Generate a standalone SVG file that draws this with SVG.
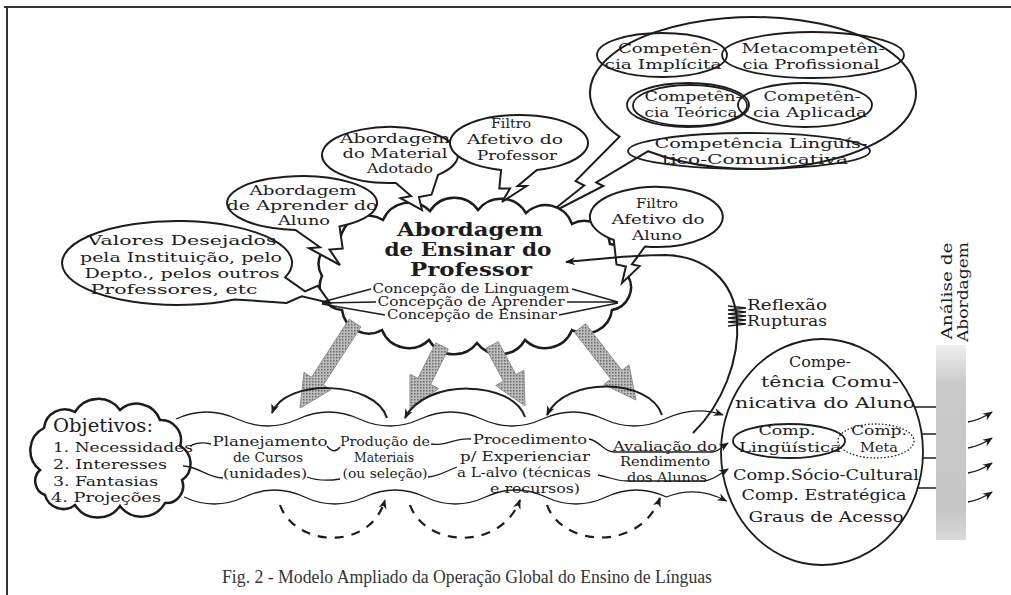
<svg xmlns="http://www.w3.org/2000/svg" width="1011" height="595" viewBox="0 0 1011 595">
<defs>
<style>
.t{font-family:"DejaVu Serif","Liberation Serif",serif;font-size:13.5px;fill:#1c1c1c;text-anchor:middle}
.m{font-size:14.5px}
.sm{font-size:12px}
.b{font-weight:bold;font-size:19px}
.l{text-anchor:start}
.cap{font-family:"Liberation Serif","Times New Roman",serif;font-size:18px;fill:#333;text-anchor:middle}
.sh{fill:#fff;stroke:#1c1c1c;stroke-width:2}
.el{fill:none;stroke:#1c1c1c;stroke-width:1.8}
.ln{fill:none;stroke:#1c1c1c;stroke-width:1.3}
.ar{fill:none;stroke:#1c1c1c;stroke-width:2}
.da{fill:none;stroke:#1c1c1c;stroke-width:2.2;stroke-dasharray:9 8}
.gr{fill:url(#dots);stroke:#8c8c8c;stroke-width:1}
</style>
<marker id="ah" viewBox="0 0 10 10" refX="9" refY="5" markerWidth="11" markerHeight="10" markerUnits="userSpaceOnUse" orient="auto"><path d="M0,1 L10,5 L0,9 L3,5 Z" fill="#1c1c1c"/></marker>
<pattern id="dots" width="3" height="3" patternUnits="userSpaceOnUse"><rect width="3" height="3" fill="#bdbdbd"/><rect width="1.5" height="1.5" fill="#6a6a6a"/></pattern>
<linearGradient id="bar" x1="0" y1="0" x2="0" y2="1"><stop offset="0" stop-color="#efefef"/><stop offset="0.2" stop-color="#c9c9c9"/><stop offset="0.85" stop-color="#c6c6c6"/><stop offset="1" stop-color="#dadada"/></linearGradient>
</defs>
<rect width="1011" height="595" fill="#fff"/>
<path d="M4,7 H1011 M7,7 V595" stroke="#333" stroke-width="2" fill="none"/>

<g id="competencias">
<path class="sh" d="M 648.2,151.2 A 163 76 0 1 0 619.5,136.6 L 575.6,181.1 L 584.2,185.5 L 547,215 L 603.3,186 L 596.2,182.4 Z"/>
<ellipse class="el" cx="662" cy="55" rx="65" ry="22"/>
<ellipse class="el" cx="813" cy="55" rx="91" ry="23"/>
<ellipse class="el" cx="688" cy="105" rx="61" ry="22"/>
<ellipse class="el" cx="690" cy="105.5" rx="57" ry="20.5"/>
<ellipse class="el" cx="805" cy="105" rx="67" ry="22"/>
<ellipse class="el" cx="749" cy="151" rx="121" ry="18"/>
<text class="t" x="668" y="53" textLength="100" lengthAdjust="spacingAndGlyphs">Competên-</text>
<text class="t" x="663" y="69" textLength="117" lengthAdjust="spacingAndGlyphs">cia Implícita</text>
<text class="t" x="813" y="53" textLength="143" lengthAdjust="spacingAndGlyphs">Metacompetên-</text>
<text class="t" x="811" y="69" textLength="137" lengthAdjust="spacingAndGlyphs">cia Profissional</text>
<text class="t" x="693" y="101" textLength="97" lengthAdjust="spacingAndGlyphs">Competên-</text>
<text class="t" x="691" y="117" textLength="93" lengthAdjust="spacingAndGlyphs">cia Teórica</text>
<text class="t" x="812" y="101" textLength="97" lengthAdjust="spacingAndGlyphs">Competên-</text>
<text class="t" x="810" y="117" textLength="114" lengthAdjust="spacingAndGlyphs">cia Aplicada</text>
<text class="t" x="761" y="148" textLength="213" lengthAdjust="spacingAndGlyphs">Competência Lingüís-</text>
<text class="t" x="755" y="164" textLength="186" lengthAdjust="spacingAndGlyphs">tico-Comunicativa</text>
</g>

<g id="abordagem-ensinar">
<path d="M 322,276 A 24 24 0 0 1 340,240 A 28 28 0 0 1 383,220 A 29 29 0 0 1 430,211 A 29 29 0 0 1 478,210 A 29 29 0 0 1 526,213 A 28 28 0 0 1 572,224 A 26 26 0 0 1 610,244 A 22 22 0 0 1 628,276 A 23 23 0 0 1 612,310 A 27 27 0 0 1 572,330 A 29 29 0 0 1 525,340 A 29 29 0 0 1 477,343 A 29 29 0 0 1 429,340 A 29 29 0 0 1 382,330 A 27 27 0 0 1 342,310 A 24 24 0 0 1 322,276 Z" fill="#fff" stroke="#1c1c1c" stroke-width="2.5"/>
</g>

<g id="valores">
<path class="sh" d="M 285.1,277.4 A 115 42 0 1 0 234.5,299.4 L 286.5,302.9 L 301.7,296.3 L 330,303 L 317.7,285.8 L 305,291.3 Z"/>
<text class="t" x="182" y="245" textLength="189" lengthAdjust="spacingAndGlyphs">Valores Desejados</text>
<text class="t" x="181" y="262" textLength="202" lengthAdjust="spacingAndGlyphs">pela Instituição, pelo</text>
<text class="t" x="182" y="278" textLength="195" lengthAdjust="spacingAndGlyphs">Depto., pelos outros</text>
<text class="t" x="174" y="294" textLength="167" lengthAdjust="spacingAndGlyphs">Professores, etc</text>
</g>

<g id="abordagem-aprender">
<path class="sh" d="M 295.5,229.9 A 75 27 0 1 1 339.5,226.4 L 342.7,248.6 L 329.5,249.6 L 340,265 L 309,248.2 L 320,247.3 Z"/>
<text class="t" x="303" y="195" textLength="107" lengthAdjust="spacingAndGlyphs">Abordagem</text>
<text class="t" x="302" y="210" textLength="151" lengthAdjust="spacingAndGlyphs">de Aprender do</text>
<text class="t" x="304" y="225" textLength="52" lengthAdjust="spacingAndGlyphs">Aluno</text>
</g>

<g id="abordagem-material">
<path class="sh" d="M 395.9,182.9 A 68 28 0 1 1 438.1,174.8 L 431.5,194.7 L 418.9,197.1 L 422,210 L 400.5,198.1 L 411.1,196.1 Z"/>
<text class="t" x="395" y="143" textLength="110" lengthAdjust="spacingAndGlyphs">Abordagem</text>
<text class="t" x="395" y="158" textLength="105" lengthAdjust="spacingAndGlyphs">do Material</text>
<text class="t" x="400" y="173" textLength="66" lengthAdjust="spacingAndGlyphs">Adotado</text>
</g>

<g id="filtro-professor">
<path class="sh" d="M 536.9,170 A 69 28 0 1 0 501.1,170 L 499.3,188.6 L 510,188.6 L 502,202 L 526.6,186 L 517.7,186 Z"/>
<text class="t" x="511" y="128" textLength="40" lengthAdjust="spacingAndGlyphs">Filtro</text>
<text class="t" x="515" y="144" textLength="96" lengthAdjust="spacingAndGlyphs">Afetivo do</text>
<text class="t" x="517" y="160" textLength="80" lengthAdjust="spacingAndGlyphs">Professor</text>
</g>

<g id="filtro-aluno">
<path class="sh" d="M 645,246.5 A 66.5 30 0 1 0 613.8,240 L 616.5,264.5 L 625.9,266.5 L 622,283 L 639.7,266.1 L 631.9,264.4 Z"/>
<text class="t" x="657" y="208" textLength="42" lengthAdjust="spacingAndGlyphs">Filtro</text>
<text class="t" x="658" y="224" textLength="93" lengthAdjust="spacingAndGlyphs">Afetivo do</text>
<text class="t" x="657" y="240" textLength="50" lengthAdjust="spacingAndGlyphs">Aluno</text>
</g>

<g id="abordagem-ensinar-texto">
<text class="t b" x="470" y="236" textLength="146" lengthAdjust="spacingAndGlyphs">Abordagem</text>
<text class="t b" x="468" y="256" textLength="167" lengthAdjust="spacingAndGlyphs">de Ensinar do</text>
<text class="t b" x="471" y="276" textLength="122" lengthAdjust="spacingAndGlyphs">Professor</text>
<text class="t sm" x="471" y="293" textLength="197" lengthAdjust="spacingAndGlyphs">Concepção de Linguagem</text>
<text class="t sm" x="471" y="306" textLength="187" lengthAdjust="spacingAndGlyphs">Concepção de Aprender</text>
<text class="t sm" x="472" y="319" textLength="170" lengthAdjust="spacingAndGlyphs">Concepção de Ensinar</text>
<path class="ln" d="M 371,289 L 322,302 M 376,302 L 322,303 M 385,315 L 322,304 M 572,289 L 618,302 M 567,302 L 618,302 M 559,315 L 618,303"/>
</g>

<g id="objetivos">
<path d="M 40,470 A 25 25 0 0 1 44,428 A 21 21 0 0 1 75,412 A 27 27 0 0 1 120,410 A 25 25 0 0 1 160,420 A 20 20 0 0 1 180,446 A 20 20 0 0 1 182,480 A 17 17 0 0 1 165,503 A 27 27 0 0 1 120,506 A 27 27 0 0 1 75,505 A 19 19 0 0 1 45,495 A 15 15 0 0 1 40,470 Z" fill="#fff" stroke="#1c1c1c" stroke-width="2.5"/>
<text class="t l" x="53" y="432" style="font-size:18px" textLength="100" lengthAdjust="spacingAndGlyphs">Objetivos:</text>
<text class="t l" x="53" y="452" textLength="140" lengthAdjust="spacingAndGlyphs">1. Necessidades</text>
<text class="t l" x="53" y="469" textLength="114" lengthAdjust="spacingAndGlyphs">2. Interesses</text>
<text class="t l" x="53" y="486" textLength="105" lengthAdjust="spacingAndGlyphs">3. Fantasias</text>
<text class="t l" x="51" y="502" textLength="110" lengthAdjust="spacingAndGlyphs">4. Projeções</text>
</g>

<g id="planejamento">
<text class="t" x="270" y="446" textLength="115" lengthAdjust="spacingAndGlyphs">Planejamento</text>
<text class="t" x="268" y="462" textLength="70" lengthAdjust="spacingAndGlyphs">de Cursos</text>
<text class="t" x="265" y="478" textLength="84" lengthAdjust="spacingAndGlyphs">(unidades)</text>
</g>
<g id="producao">
<text class="t" x="385" y="446" textLength="90" lengthAdjust="spacingAndGlyphs">Produção de</text>
<text class="t" x="384" y="462" textLength="60" lengthAdjust="spacingAndGlyphs">Materiais</text>
<text class="t" x="385" y="478" textLength="85" lengthAdjust="spacingAndGlyphs">(ou seleção)</text>
</g>
<g id="procedimento">
<text class="t" x="530" y="444" textLength="114" lengthAdjust="spacingAndGlyphs">Procedimento</text>
<text class="t" x="525" y="461" textLength="130" lengthAdjust="spacingAndGlyphs">p/ Experienciar</text>
<text class="t" x="524" y="477" textLength="134" lengthAdjust="spacingAndGlyphs">a L-alvo (técnicas</text>
<text class="t" x="535" y="493" textLength="90" lengthAdjust="spacingAndGlyphs">e recursos)</text>
</g>
<g id="avaliacao">
<text class="t" x="665" y="451" textLength="104" lengthAdjust="spacingAndGlyphs">Avaliação do</text>
<text class="t" x="665" y="466" textLength="90" lengthAdjust="spacingAndGlyphs">Rendimento</text>
<text class="t" x="667" y="482" textLength="80" lengthAdjust="spacingAndGlyphs">dos Alunos</text>
</g>

<g id="competencia-comunicativa">
<ellipse class="el" cx="822" cy="452" rx="101" ry="113"/>
<ellipse class="el" cx="789" cy="441" rx="56" ry="17"/>
<ellipse cx="876" cy="441" rx="38" ry="17" fill="none" stroke="#1c1c1c" stroke-width="1.3" stroke-dasharray="1.5 2"/>
<text class="t m" x="820" y="367" textLength="62" lengthAdjust="spacingAndGlyphs">Compe-</text>
<text class="t m" x="830" y="387" textLength="138" lengthAdjust="spacingAndGlyphs">tência Comu-</text>
<text class="t m" x="825" y="408" textLength="180" lengthAdjust="spacingAndGlyphs">nicativa do Aluno</text>
<text class="t" x="787" y="435" textLength="57" lengthAdjust="spacingAndGlyphs">Comp.</text>
<text class="t" x="790" y="452" textLength="102" lengthAdjust="spacingAndGlyphs">Lingüística</text>
<text class="t" x="879" y="435" textLength="56" lengthAdjust="spacingAndGlyphs">Comp.</text>
<text class="t" x="879" y="452" textLength="38" lengthAdjust="spacingAndGlyphs">Meta</text>
<text class="t m" x="826" y="480" textLength="186" lengthAdjust="spacingAndGlyphs">Comp.Sócio-Cultural</text>
<text class="t m" x="824" y="500" textLength="165" lengthAdjust="spacingAndGlyphs">Comp. Estratégica</text>
<text class="t m" x="826" y="522" textLength="155" lengthAdjust="spacingAndGlyphs">Graus de Acesso</text>
<path class="ln" d="M 915,407 H 936 M 922,434 H 936 M 923,458 H 936 M 918,488 H 936"/>
</g>

<g id="analise-abordagem">
<rect x="936" y="345" width="30" height="195" fill="url(#bar)"/>
<text class="t m" transform="translate(952,291) rotate(-90)" textLength="97" lengthAdjust="spacingAndGlyphs">Análise de</text>
<text class="t m" transform="translate(968,292) rotate(-90)" textLength="100" lengthAdjust="spacingAndGlyphs">Abordagem</text>
</g>

<g id="reflexao">
<text class="t l m" x="747" y="310" textLength="80" lengthAdjust="spacingAndGlyphs">Reflexão</text>
<text class="t l m" x="747" y="326" textLength="80" lengthAdjust="spacingAndGlyphs">Rupturas</text>
</g>

<g id="connectors">
<polygon class="gr" points="349.1,319.2 311.5,377.3 304,372.4 300,408 330.8,389.8 323.3,384.9 360.9,326.8"/>
<polygon class="gr" points="435.7,342.9 418,378.3 410,374.3 410,410 438.6,388.6 430.6,384.5 448.3,349.1"/>
<polygon class="gr" points="485.9,348.3 503.6,381.2 495.7,385.5 525,406 523.9,370.3 515.9,374.6 498.2,341.7"/>
<polygon class="gr" points="574.5,332.3 610.9,379 603.8,384.5 636,400 629,364.9 621.9,370.4 585.5,323.7"/>

<path class="ar" marker-end="url(#ah)" d="M 387,418 C 375,380 285,378 272,413"/>
<path class="ar" marker-end="url(#ah)" d="M 525,417 C 512,380 425,378 405,418"/>
<path class="ar" marker-end="url(#ah)" d="M 662,415 C 650,378 565,376 547,415"/>

<path class="da" marker-end="url(#ah)" d="M 280,505 C 295,547 370,552 385,500"/>
<path class="da" marker-end="url(#ah)" d="M 410,505 C 425,547 500,552 520,500"/>
<path class="da" marker-end="url(#ah)" d="M 547,505 C 562,547 640,552 660,498"/>

<path class="ln" marker-end="url(#ah)" d="M 176,419 q 30.5,-14 61.1,0 t 61.1,0 t 61.1,0 t 61.1,0 t 61.1,0 t 61.1,0 t 61.1,0 t 61.1,0 q 30,-14 58,-4"/>
<path class="ln" marker-end="url(#ah)" d="M 184,497 q 30.15,14 60.3,0 t 60.3,0 t 60.3,0 t 60.3,0 t 60.3,0 t 60.3,0 t 60.3,0 t 60.3,0 q 30,-12 60,4"/>

<path class="ln" d="M 190,446 q 9,-5 21,-2 M 327,446 q 7,9 13,1 M 431,444 C 445,447 455,437 471,439"/>
<path class="ln" marker-end="url(#ah)" d="M 589,439 C 600,441 604,452 614,452 L 712,452 C 718,452 722,447 728,443"/>
<path class="ln" d="M 183,466 C 200,467 208,478 223,478 M 307,477 C 318,481 328,481 340,479 M 428,477 C 440,476 448,470 457,467"/>
<path class="ln" marker-end="url(#ah)" d="M 598,475 C 610,477 615,481 627,481 L 704,481 C 712,481 720,474 728,469"/>

<path class="ar" marker-end="url(#ah)" d="M 693,433 C 722,405 740,360 737,320 C 734,280 705,256 665,255 C 630,255 600,259 566,262"/>
<path d="M 728,306 L 746,308 L 728,310 L 746,312 L 728,314 L 746,316 L 728,318 L 746,320 L 728,322 L 746,324 L 728,326" fill="none" stroke="#1c1c1c" stroke-width="1.6"/>

<path class="ln" marker-end="url(#ah)" d="M 968,422 Q 980,420 992,412"/>
<path class="ln" marker-end="url(#ah)" d="M 968,448 Q 980,446 992,438"/>
<path class="ln" marker-end="url(#ah)" d="M 968,473 Q 980,471 992,463"/>
<path class="ln" marker-end="url(#ah)" d="M 968,502 Q 980,500 992,492"/>
</g>

<text class="cap" x="467" y="583" textLength="490" lengthAdjust="spacingAndGlyphs">Fig. 2 - Modelo Ampliado da Operação Global do Ensino de Línguas</text>
</svg>
